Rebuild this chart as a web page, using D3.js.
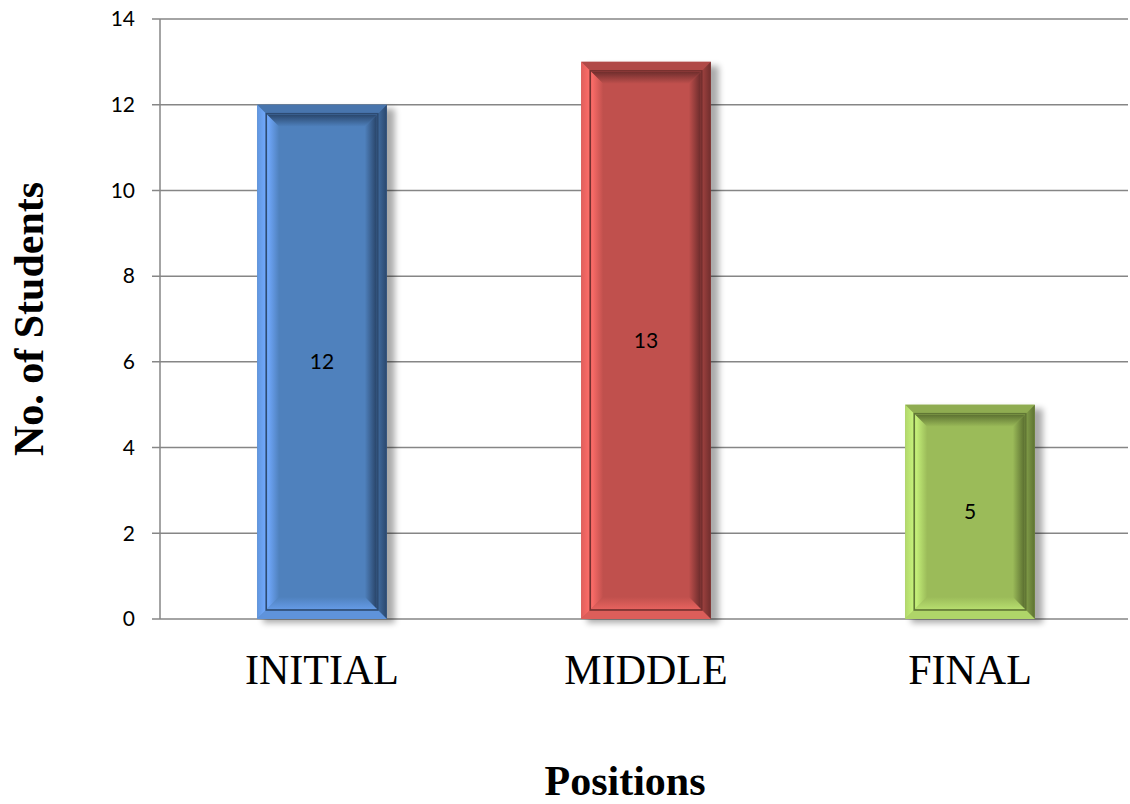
<!DOCTYPE html>
<html><head><meta charset="utf-8">
<script src="https://cdn.jsdelivr.net/npm/d3@7"></script>
<style>body{margin:0;background:#fff}svg{display:block}</style>
</head><body>
<script>
const categories = ["INITIAL", "MIDDLE", "FINAL"];
const values = [12, 13, 5];
const yTicks = [0, 2, 4, 6, 8, 10, 12, 14];
const baseColors = ["#4F81BD", "#C0504D", "#9BBB59"];
const lightColors = ["#72AAFF", "#FF6E6A", "#C8F47C"];
const darkColors = ["#1E3452", "#552222", "#485A25"];
const xTitle = "Positions";
const yTitle = "No. of Students";

const W = 1130, H = 804;
const svg = d3.select("body").append("svg").attr("width", W).attr("height", H);
const defs = svg.append("defs");
const f = defs.append("filter").attr("id","sh").attr("x","-20%").attr("y","-20%").attr("width","150%").attr("height","150%");
f.append("feGaussianBlur").attr("stdDeviation", 3);

const x = d3.scaleBand().domain(categories).range([160, 1132]).paddingInner(0.6).paddingOuter(0.3);
const y = d3.scaleLinear().domain([0, 14]).range([619, 19]);

// gridlines
svg.append("g").selectAll("line").data(yTicks).join("line")
  .attr("x1", 152).attr("x2", 1128)
  .attr("y1", d => y(d)).attr("y2", d => y(d))
  .attr("stroke", "#868686").attr("stroke-width", 1.5);
// axis line
svg.append("line").attr("x1",160).attr("x2",160).attr("y1",y(14)).attr("y2",y(0))
  .attr("stroke","#868686").attr("stroke-width",1.5);
// tick labels
svg.append("g").selectAll("text").data(yTicks).join("text")
  .attr("x", 135).attr("y", d => y(d)).attr("dy","0.35em")
  .attr("text-anchor","end").attr("font-family","Lato, 'Open Sans', sans-serif")
  .attr("font-size", 21).attr("fill","#000").text(d => d);

function grad(id, c1, c2, dir) {
  const g = defs.append("linearGradient").attr("id", id);
  const m = {t:[0,0,0,1], b:[0,1,0,0], l:[0,0,1,0], r:[1,0,0,0]}[dir];
  g.attr("x1",m[0]).attr("y1",m[1]).attr("x2",m[2]).attr("y2",m[3]);
  g.append("stop").attr("offset","0%").attr("stop-color",c1);
  g.append("stop").attr("offset","100%").attr("stop-color",c2);
  return `url(#${id})`;
}

const bars = svg.append("g");
categories.forEach((c, i) => {
  const v = values[i];
  const x0 = x(c), x1 = x(c) + x.bandwidth();
  const y0 = y(v), y1 = y(0);
  const base = baseColors[i], light = lightColors[i], dark = darkColors[i];
  const g = bars.append("g");
  // shadow
  g.append("rect").attr("x", x0 + 6).attr("y", y0 + 4).attr("width", x1 - x0 + 2).attr("height", y1 - y0)
    .attr("fill", "#000").attr("opacity", 0.33).attr("filter","url(#sh)");
  g.append("rect").attr("x", x0).attr("y", y0).attr("width", x1 - x0).attr("height", y1 - y0).attr("fill", base);
  const poly = (pts, fill) => g.append("polygon").attr("points", pts.map(p => p.join(",")).join(" ")).attr("fill", fill);
  // outer frame
  const b = 9;
  const ax0 = x0 + b, ax1 = x1 - b, ay0 = y0 + b, ay1 = y1 - b;
  poly([[x0,y0],[x1,y0],[ax1,ay0],[ax0,ay0]], d3.interpolateRgb(base, dark)(0.15));
  poly([[x0,y0],[ax0,ay0],[ax0,ay1],[x0,y1]], grad(`ol${i}`, d3.interpolateRgb(base, light)(0.5), light, "l"));
  poly([[x1,y0],[x1,y1],[ax1,ay1],[ax1,ay0]], grad(`or${i}`, d3.interpolateRgb(base, dark)(0.3), d3.interpolateRgb(base, dark)(0.75), "l"));
  poly([[x0,y1],[ax0,ay1],[ax1,ay1],[x1,y1]], d3.interpolateRgb(base, light)(0.45));
  // inner dark line
  g.append("rect").attr("x", ax0).attr("y", ay0).attr("width", ax1 - ax0).attr("height", ay1 - ay0)
    .attr("fill", "none").attr("stroke", d3.interpolateRgb(base, dark)(0.7)).attr("stroke-width", 1.6);
  // inner bevel
  const bi = 13;
  const ix0 = ax0 + bi, ix1 = ax1 - bi, iy0 = ay0 + bi, iy1 = ay1 - bi;
  poly([[ax0+1,ay0+1],[ax1-1,ay0+1],[ix1,iy0],[ix0,iy0]], grad(`it${i}`, d3.interpolateRgb(base, dark)(0.75), base, "t"));
  poly([[ax0+1,ay0+1],[ix0,iy0],[ix0,iy1],[ax0+1,ay1-1]], grad(`il${i}`, light, base, "l"));
  poly([[ax1-1,ay0+1],[ax1-1,ay1-1],[ix1,iy1],[ix1,iy0]], grad(`ir${i}`, base, d3.interpolateRgb(base, dark)(0.8), "l"));
  poly([[ax0+1,ay1-1],[ix0,iy1],[ix1,iy1],[ax1-1,ay1-1]], grad(`ib${i}`, base, d3.interpolateRgb(base, light)(0.6), "t"));
  // value label
  g.append("text").attr("x", (x0 + x1) / 2).attr("y", (y0 + y1) / 2).attr("dy", "0.35em")
    .attr("text-anchor","middle").attr("font-family","Lato, 'Open Sans', sans-serif")
    .attr("font-size", 21).attr("fill","#000").text(v);
});

// category labels
svg.append("g").selectAll("text").data(categories).join("text")
  .attr("x", d => x(d) + x.bandwidth() / 2).attr("y", 684)
  .attr("text-anchor","middle").attr("font-family","'Liberation Serif', 'Times New Roman', serif")
  .attr("font-size", 42).attr("fill","#000").text(d => d);

svg.append("text").attr("x", 625).attr("y", 795).attr("text-anchor","middle")
  .attr("font-family","'Liberation Serif', 'Times New Roman', serif").attr("font-weight","bold")
  .attr("font-size", 42).text(xTitle);
svg.append("text").attr("transform","translate(43,319) rotate(-90)").attr("text-anchor","middle")
  .attr("font-family","'Liberation Serif', 'Times New Roman', serif").attr("font-weight","bold")
  .attr("font-size", 42).text(yTitle);
</script>
</body></html>
